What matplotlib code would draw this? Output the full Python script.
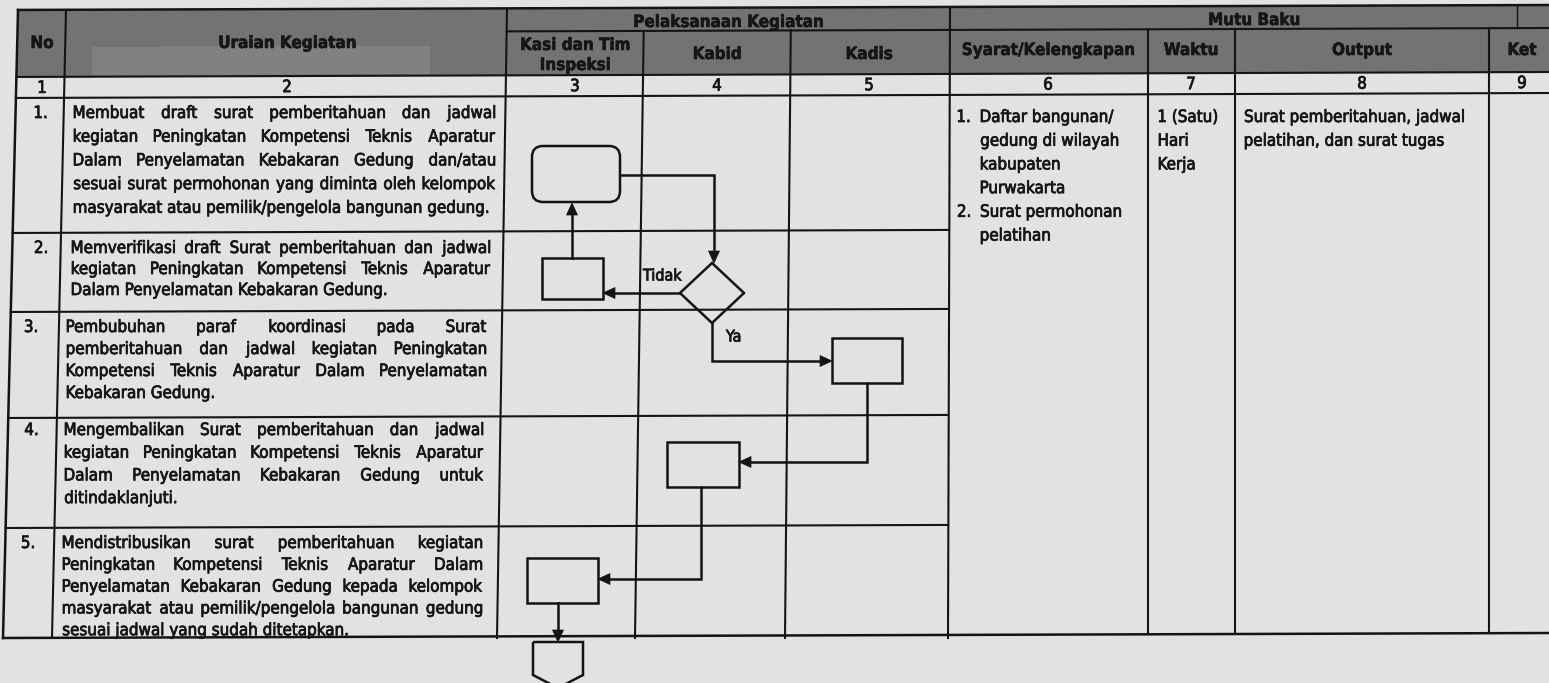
import os
import matplotlib
matplotlib.use("Agg")
import matplotlib.pyplot as plt
from matplotlib import font_manager as fm
from matplotlib import patheffects as pe
from matplotlib.textpath import TextPath
from matplotlib.patches import Polygon, FancyBboxPatch

# ---------------- data ----------------
header_top = ["Pelaksanaan Kegiatan", "Mutu Baku"]
header_cols = ["No", "Uraian Kegiatan", "Kasi dan Tim\nInspeksi", "Kabid", "Kadis",
               "Syarat/Kelengkapan", "Waktu", "Output", "Ket"]
col_numbers = ["1", "2", "3", "4", "5", "6", "7", "8", "9"]
step_numbers = ["1.", "2.", "3.", "4.", "5."]
step_lines = [
    ["Membuat draft surat pemberitahuan dan jadwal",
     "kegiatan Peningkatan Kompetensi Teknis Aparatur",
     "Dalam Penyelamatan Kebakaran Gedung dan/atau",
     "sesuai surat permohonan yang diminta oleh kelompok",
     "masyarakat atau pemilik/pengelola bangunan gedung."],
    ["Memverifikasi draft Surat pemberitahuan dan jadwal",
     "kegiatan Peningkatan Kompetensi Teknis Aparatur",
     "Dalam Penyelamatan Kebakaran Gedung."],
    ["Pembubuhan paraf koordinasi pada Surat",
     "pemberitahuan dan jadwal kegiatan Peningkatan",
     "Kompetensi Teknis Aparatur Dalam Penyelamatan",
     "Kebakaran Gedung."],
    ["Mengembalikan Surat pemberitahuan dan jadwal",
     "kegiatan Peningkatan Kompetensi Teknis Aparatur",
     "Dalam Penyelamatan Kebakaran Gedung untuk",
     "ditindaklanjuti."],
    ["Mendistribusikan surat pemberitahuan kegiatan",
     "Peningkatan Kompetensi Teknis Aparatur Dalam",
     "Penyelamatan Kebakaran Gedung kepada kelompok",
     "masyarakat atau pemilik/pengelola bangunan gedung",
     "sesuai jadwal yang sudah ditetapkan."],
]
syarat_items = [["Daftar bangunan/", "gedung di wilayah", "kabupaten", "Purwakarta"],
                ["Surat permohonan", "pelatihan"]]
waktu_lines = ["1 (Satu)", "Hari", "Kerja"]
output_lines = ["Surat pemberitahuan, jadwal", "pelatihan, dan surat tugas"]
decision_labels = ["Tidak", "Ya"]

# ---------------- style / layout ----------------
W, H = 1549, 683
DPI = 100
BG = "#e2e2e2"
HDR = "#737373"
HDR2 = "#818181"
LC = "#141414"
TC = "#161616"
TILT = 5.0 / 1549

fig = plt.figure(figsize=(W / DPI, H / DPI), dpi=DPI)
fig.patch.set_facecolor(BG)
ax = fig.add_axes([0, 0, 1, 1])
ax.set_xlim(0, W)
ax.set_ylim(H, 0)
ax.axis("off")


def find_font(names):
    for f in fm.fontManager.ttflist:
        if os.path.basename(f.fname) in names:
            return f.fname
    return None


reg_file = find_font(["DejaVuSansCondensed.ttf"])
bold_file = find_font(["DejaVuSansCondensed-Bold.ttf"])


def FP(size, bold=False):
    if reg_file and bold_file:
        return fm.FontProperties(fname=bold_file if bold else reg_file, size=size)
    return fm.FontProperties(family="Liberation Sans",
                             weight="bold" if bold else "normal", size=size)


def ink(s, fp):
    """ink extent (x0, x1) in pixels of the text as drawn by the path renderer"""
    e = TextPath((0, 0), s, prop=fp).get_extents()
    k = DPI / 72.0
    return e.x0 * k, e.x1 * k


def textw(s, fp):
    a, b = ink(s, fp)
    return b - a


# calibrate sizes from measured widths in the reference
body_size = 10 * 414 / textw(step_lines[0][-1], FP(10))
head_size = 10 * 188 / textw(header_top[0], FP(10, True))
fb = FP(body_size)
fh = FP(head_size, True)
PE_B = [pe.withStroke(linewidth=0.55, foreground=TC)]
PE_H = [pe.withStroke(linewidth=0.4, foreground=TC)]


def T(x, y, s, fp, zorder=5, **kw):
    effects = PE_H if fp is fh else PE_B
    return ax.text(x, y, s, fontproperties=fp, color=TC, zorder=zorder,
                   path_effects=effects, **kw)


def TL(x, y, s, fp, zorder=5):
    """left-aligned text whose ink starts exactly at x"""
    a, _ = ink(s, fp)
    return T(x - a, y, s, fp, zorder=zorder, ha="left", va="baseline")


def yat(y0, x):
    return y0 - TILT * x


def vx(xt, xb, y):
    return xt + (xb - xt) * (y - 10) / 628.0


# header background
Y_TOP, Y_SPLIT, Y_NT, Y_NB, Y_BOT = 10, 33, 77, 98, 638
hdr_poly = [(vx(18, 3, Y_TOP), Y_TOP), (W, yat(Y_TOP, W)), (W, yat(Y_NT, W)),
            (vx(18, 3, Y_NT), Y_NT)]
ax.add_patch(Polygon(hdr_poly, closed=True, facecolor=HDR, edgecolor="none", zorder=1))
ax.add_patch(Polygon([(92, 47), (430, 46), (430, 74), (92, 75)], closed=True,
                     facecolor=HDR2, edgecolor="none", zorder=1))
num_poly = [(vx(18, 3, Y_NT), Y_NT), (W, yat(Y_NT, W)), (W, yat(Y_NB, W)),
            (vx(18, 3, Y_NB), Y_NB)]
ax.add_patch(Polygon(num_poly, closed=True, facecolor=BG, edgecolor="none", zorder=3))

# header texts
hx = [42, 287, 575, 717, 869, 1048, 1191, 1362, 1522]
hy = [43, 43, 54, 54, 54, 50, 50, 50, 50]
for i, lab in enumerate(header_cols):
    parts = lab.split("\n")
    if len(parts) == 2:
        T(hx[i], 45, parts[0], fh, zorder=2, ha="center", va="center")
        T(hx[i], 65, parts[1], fh, zorder=2, ha="center", va="center")
    else:
        T(hx[i], hy[i], lab, fh, zorder=2, ha="center", va="center")
T(728, 22, header_top[0], fh, zorder=2, ha="center", va="center")
T(1254, 20, header_top[1], fh, zorder=2, ha="center", va="center")

# column numbers
for i, n in enumerate(col_numbers):
    T(hx[i], yat(93, hx[i]), n, fb, ha="center", va="baseline")

# ---------------- grid lines ----------------
LW = 1.5


def hline(y0, x0, x1, lw=LW):
    ax.plot([x0, x1], [yat(y0, x0), yat(y0, x1)], color=LC, lw=lw,
            solid_capstyle="projecting", zorder=4)


def vline(xt, xb, y0, y1, lw=LW):
    ax.plot([vx(xt, xb, y0), vx(xt, xb, y1)], [y0, y1], color=LC, lw=lw,
            solid_capstyle="projecting", zorder=4)


hline(Y_TOP, vx(18, 3, Y_TOP), W, lw=1.8)
hline(Y_SPLIT, 507, W)
hline(Y_NT, vx(18, 3, Y_NT), W)
hline(Y_NB, vx(18, 3, Y_NB), W)
row_lines = [233, 312, 418, 528]
for r in row_lines:
    hline(r, vx(18, 3, r), 948)
hline(Y_BOT, 3, W, lw=1.8)

vline(18, 3, Y_TOP, Y_BOT, lw=1.8)
vline(66, 52, Y_TOP, Y_BOT)
vline(507, 497, Y_TOP, Y_BOT)
vline(644, 635, 31, Y_BOT)
vline(791, 785, 30, Y_BOT)
vline(950, 948, 8, Y_BOT)
for xc in (1148, 1235, 1489):
    vline(xc, xc, yat(Y_SPLIT, xc), yat(Y_BOT, xc))
vline(1517, 1517, yat(Y_TOP, 1517), yat(Y_SPLIT, 1517), lw=1.0)

# ---------------- body text ----------------
first_y = [113, 248, 327, 430, 543]
spacing = [23.7, 21.0, 22.0, 22.7, 21.8]
x_ranges = [(74, 495), (72, 490), (67, 486), (65, 483), (63, 482)]
num_x = [35, 35, 25, 25, 22]
BASE = 5

for r, lines in enumerate(step_lines):
    x0, x1 = x_ranges[r]
    TL(num_x[r], first_y[r] + BASE, step_numbers[r], fb)
    for k, line in enumerate(lines):
        yb = first_y[r] + k * spacing[r] + BASE
        justify = k < len(lines) - 1
        if not justify:
            TL(x0, yb, line, fb)
            continue
        words = line.split()
        widths = [textw(w, fb) for w in words]
        gap = (x1 - x0 - sum(widths)) / (len(words) - 1)
        xx = x0
        for w, wd in zip(words, widths):
            TL(xx, yb, w, fb)
            xx += wd + gap

# right-hand columns
RY0, RSP = 117, 23.7
k = 0
for i, item in enumerate(syarat_items):
    for j, line in enumerate(item):
        yb = RY0 + k * RSP + BASE
        if j == 0:
            TL(958, yb, f"{i + 1}.", fb)
        TL(981, yb, line, fb)
        k += 1
for j, line in enumerate(waktu_lines):
    TL(1159, RY0 + j * RSP + BASE, line, fb)
for j, line in enumerate(output_lines):
    TL(1245, RY0 + j * RSP + BASE, line, fb)

# ---------------- flowchart ----------------
FLW = 1.8
shape_kw = dict(facecolor="none", edgecolor=LC, linewidth=FLW, zorder=6)

# terminator (step 1, Kasi)
ax.add_patch(FancyBboxPatch((532, 146), 88, 56,
                            boxstyle="round,pad=0,rounding_size=11", **shape_kw))
# process boxes
boxes = {
    "s2": (542, 258, 61, 41),
    "s3": (832, 338, 70, 45),
    "s4": (667, 442, 72, 45),
    "s5": (527, 558, 71, 45),
}
for (bx, by, bw, bh) in boxes.values():
    ax.add_patch(Polygon([(bx, by), (bx + bw, by), (bx + bw, by + bh), (bx, by + bh)],
                         closed=True, **shape_kw))
# decision diamond (Kabid)
dcx, dcy, dhw, dhh = 712, 293, 32, 30
ax.add_patch(Polygon([(dcx, dcy - dhh), (dcx + dhw, dcy), (dcx, dcy + dhh), (dcx - dhw, dcy)],
                     closed=True, **shape_kw))
# off-page connector
ax.add_patch(Polygon([(533, 642), (583, 642), (583, 675), (558, 688), (533, 675)],
                     closed=True, **shape_kw))

HL, HW = 12, 5.5


def arrow(points):
    """polyline ending with a filled arrow head at the last point"""
    (xa, ya), (xb, yb) = points[-2], points[-1]
    dx, dy = xb - xa, yb - ya
    L = (dx ** 2 + dy ** 2) ** 0.5
    ux, uy = dx / L, dy / L
    bx, by = xb - ux * HL, yb - uy * HL
    xs = [p[0] for p in points[:-1]] + [bx]
    ys = [p[1] for p in points[:-1]] + [by]
    ax.plot(xs, ys, color=LC, lw=FLW, zorder=6, solid_joinstyle="miter")
    px, py = -uy, ux
    ax.add_patch(Polygon([(xb, yb), (bx + px * HW, by + py * HW), (bx - px * HW, by - py * HW)],
                         closed=True, facecolor=LC, edgecolor=LC, lw=0.5, zorder=6))


arrow([(620, 175), (714, 175), (714, dcy - dhh)])
arrow([(dcx - dhw, dcy), (603, dcy)])
arrow([(572, 258), (572, 203)])
arrow([(dcx, dcy + dhh), (dcx, 361), (832, 361)])
arrow([(867, 383), (867, 462), (739, 462)])
arrow([(701, 487), (701, 579), (598, 579)])
arrow([(558, 603), (558, 642)])

fl = FP(body_size * 0.95)
T(643, 276, decision_labels[0], fl, zorder=6, ha="left", va="center")
T(726, 337, decision_labels[1], fl, zorder=6, ha="left", va="center")

fig.savefig("out.png", dpi=DPI, facecolor=BG)
